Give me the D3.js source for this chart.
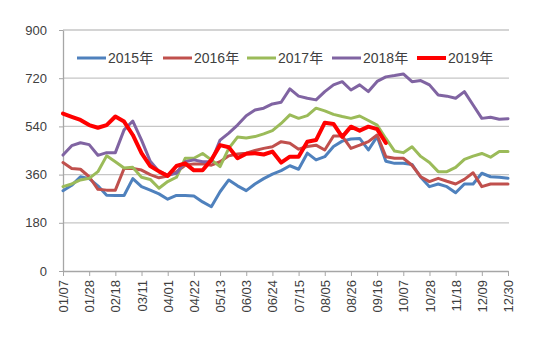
<!DOCTYPE html>
<html>
<head>
<meta charset="utf-8">
<script src="https://cdn.jsdelivr.net/npm/d3@7"></script>
<style>
  html, body { margin: 0; padding: 0; background: #fff; }
  svg { display: block; }
  text { font-family: "Liberation Sans", Arial, "Noto Sans CJK SC", sans-serif; fill: #404040; }
</style>
</head>
<body>
<svg id="chart" width="550" height="345"></svg>
<script>
const weeks = ["01/07","01/14","01/21","01/28","02/04","02/11","02/18","02/25","03/04","03/11","03/18","03/25",
  "04/01","04/08","04/15","04/22","04/29","05/06","05/13","05/20","05/27","06/03","06/10","06/17","06/24",
  "07/01","07/08","07/15","07/22","07/29","08/05","08/12","08/19","08/26","09/02","09/09","09/16","09/23","09/30",
  "10/07","10/14","10/21","10/28","11/04","11/11","11/18","11/25","12/02","12/09","12/16","12/23","12/30"];

const tickLabels = ["01/07","01/28","02/18","03/11","04/01","04/22","05/13","06/03","06/24","07/15",
  "08/05","08/26","09/16","10/07","10/28","11/18","12/09","12/30"];

const yTicks = [0, 180, 360, 540, 720, 900];

const seriesNames = ["2015年","2016年","2017年","2018年","2019年"];

const v2015 = [300,320,352,345,318,283,282,282,345,315,302,288,268,282,282,280,258,240,296,340,318,300,325,345,362,375,
  393,380,440,415,427,465,485,493,495,452,502,410,402,402,398,350,315,325,315,292,325,325,365,352,350,346];
const v2016 = [405,383,380,352,305,302,302,383,383,377,360,348,355,370,395,400,400,395,408,430,437,440,450,458,464,483,
  477,455,465,470,452,504,504,458,470,483,508,427,421,421,395,352,334,346,335,325,342,367,315,325,325,325];
const v2017 = [315,325,340,346,371,430,408,385,387,350,342,309,334,350,421,421,439,415,390,458,500,497,502,512,524,551,
  583,570,580,608,598,585,577,570,579,562,545,495,448,442,464,428,405,371,371,387,417,429,439,425,446,446];
const v2018 = [433,468,479,472,432,442,442,527,560,489,410,372,358,365,408,415,408,408,489,515,545,580,601,608,624,630,
  680,653,645,639,670,695,707,676,695,670,708,725,730,736,707,711,695,657,653,645,670,620,570,574,567,569];
const v2019 = [588,576,564,545,535,545,577,558,508,440,392,372,355,392,402,376,376,415,470,462,421,438,440,435,446,405,
  427,427,483,489,554,549,501,539,524,539,530,478];

const colors = ["#4F81BD","#C0504D","#9BBB59","#8064A2","#FF0000"];
const widths = [3, 3, 3, 3, 4];
const allSeries = [v2015, v2016, v2017, v2018, v2019];

const svg = d3.select("#chart");
const plotL = 63, plotR = 508, plotT = 30, plotB = 271;

const x = d3.scalePoint().domain(weeks).range([plotL, plotR]);
const y = d3.scaleLinear().domain([0, 900]).range([plotB, plotT]);

// gridlines
svg.append("g")
  .selectAll("line")
  .data(yTicks.filter(d => d > 0))
  .join("line")
  .attr("x1", plotL).attr("x2", plotR + 1)
  .attr("y1", d => y(d)).attr("y2", d => y(d))
  .attr("stroke", "#C6C6C6").attr("stroke-width", 1.3);

// y axis
const yAxis = svg.append("g")
  .attr("transform", `translate(${plotL},0)`)
  .call(d3.axisLeft(y).tickValues(yTicks).tickSize(4).tickSizeOuter(0).tickPadding(12));
yAxis.select(".domain").attr("stroke", "#A6A6A6").attr("stroke-width", 1.3);
yAxis.selectAll(".tick line").attr("stroke", "#A6A6A6");
yAxis.selectAll("text").style("font-size", "13px").attr("fill", "#404040");

// x axis
const xAxis = svg.append("g")
  .attr("transform", `translate(0,${plotB})`)
  .call(d3.axisBottom(x).tickValues(tickLabels).tickSize(5).tickSizeOuter(0));
xAxis.select(".domain").attr("stroke", "#A6A6A6").attr("stroke-width", 1.3);
xAxis.selectAll(".tick line").attr("stroke", "#A6A6A6");
xAxis.selectAll("text")
  .style("font-size", "13px")
  .attr("fill", "#404040")
  .attr("transform", "rotate(-90)")
  .attr("text-anchor", "end")
  .attr("x", -9)
  .attr("y", 0)
  .attr("dy", "0.35em");

// lines
const line = d3.line()
  .x((d, i) => x(weeks[i]))
  .y(d => y(d));

svg.append("g")
  .selectAll("path")
  .data(allSeries)
  .join("path")
  .attr("d", d => line(d))
  .attr("fill", "none")
  .attr("stroke", (d, i) => colors[i])
  .attr("stroke-width", (d, i) => widths[i])
  .attr("stroke-linejoin", "round")
  .attr("stroke-linecap", "round");

// legend
const legendX = [77, 163, 247, 332, 417];
const legendY = 58;
const lg = svg.append("g");
seriesNames.forEach((name, i) => {
  lg.append("line")
    .attr("x1", legendX[i]).attr("x2", legendX[i] + 29)
    .attr("y1", legendY).attr("y2", legendY)
    .attr("stroke", colors[i]).attr("stroke-width", widths[i]);
  lg.append("text")
    .attr("x", legendX[i] + 31).attr("y", legendY)
    .attr("dy", "0.36em")
    .style("font-size", "14px")
    .text(name);
});
</script>
</body>
</html>
